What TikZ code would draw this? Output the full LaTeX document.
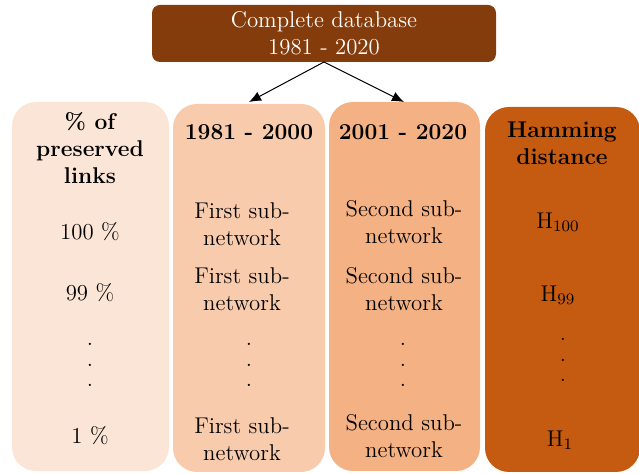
\documentclass[tikz,border=0pt]{standalone}
\usetikzlibrary{arrows.meta}
\definecolor{dbrown}{HTML}{843C0C}
\definecolor{cone}{HTML}{FBE5D6}
\definecolor{ctwo}{HTML}{F8CBAD}
\definecolor{cthree}{HTML}{F4B183}
\definecolor{cfour}{HTML}{C55A11}
\begin{document}
\begin{tikzpicture}[x=0.5pt,y=-0.5pt,
  col/.style={rounded corners=12pt, inner sep=0pt},
  txt/.style={align=center, inner sep=0pt, font=\fontsize{11.4}{13.4}\selectfont},
  hdr/.style={txt, font=\fontsize{11.4}{13.4}\selectfont\bfseries},
  dots/.style={align=center, inner sep=0pt, font=\fontsize{11.4}{10.3}\selectfont},
  arr/.style={-{Latex[length=6pt,width=5pt]}, black, line width=0.5pt}]
\useasboundingbox (0,0) rectangle (639,474);
% top box
\node[col, rounded corners=4pt, fill=dbrown, minimum width=172pt, minimum height=28.5pt] (top) at (324,33.5) {};
\node[txt, text=white] (toptxt) at (324,33.5) {Complete database\\1981 - 2020};
% columns
\node[col, fill=cone, minimum width=78.5pt, minimum height=184.5pt] (c1) at (90.5,286.5) {};
\node[col, fill=ctwo, minimum width=76pt, minimum height=184pt] (c2) at (249,288) {};
\node[col, fill=cthree, minimum width=75.5pt, minimum height=184.5pt] (c3) at (404.5,286.5) {};
\node[col, fill=cfour, minimum width=77.5pt, minimum height=182.5pt] (c4) at (562.5,289.5) {};
% arrows
\coordinate (s) at (324,62);
\coordinate (t1) at (249,102);
\coordinate (t2) at (404,102);
\draw[arr] (s) -- (t1);
\draw[arr] (s) -- (t2);
% column 1
\node[hdr] (h1) at (90,148) {\% of\\preserved\\links};
\node[txt] (a1) at (90,232) {100 \%};
\node[txt] (a2) at (90,293) {99 \%};
\node[dots] (a3) at (90,365) {.\\.\\.};
\node[txt] (a4) at (90,436) {1 \%};
% column 2
\node[hdr] (h2) at (249,132) {1981 - 2000};
\node[txt] (b1) at (242,224) {First sub-\\network};
\node[txt] (b2) at (242,289) {First sub-\\network};
\node[dots] (b3) at (249,365) {.\\.\\.};
\node[txt] (b4) at (242,439) {First sub-\\network};
% column 3
\node[hdr] (h3) at (403,132) {2001 - 2020};
\node[txt] (d1) at (404,222) {Second sub-\\network};
\node[txt] (d2) at (404,289) {Second sub-\\network};
\node[dots] (d3) at (403,365) {.\\.\\.};
\node[txt] (d4) at (404,436) {Second sub-\\network};
% column 4
\node[hdr] (h4) at (562,143) {Hamming\\distance};
\node[txt] (e1) at (558,222) {H$_{100}$};
\node[txt] (e2) at (558,295) {H$_{99}$};
\node[dots] (e3) at (563,360) {.\\.\\.};
\node[txt] (e4) at (560,440) {H$_{1}$};
\end{tikzpicture}
\end{document}
